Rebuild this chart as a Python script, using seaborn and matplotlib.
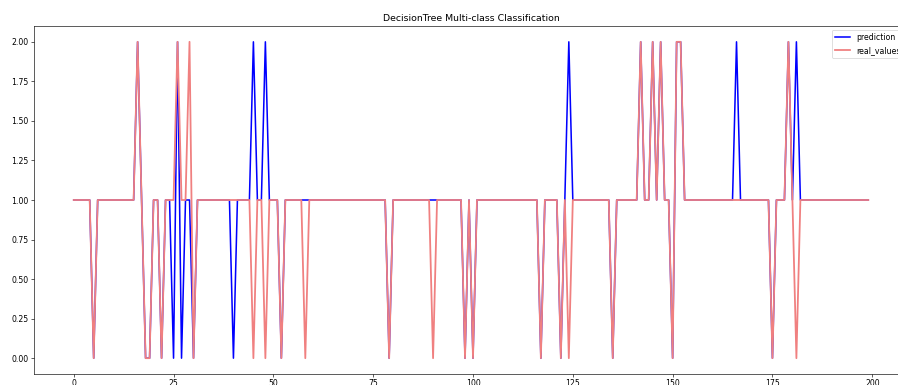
import matplotlib
matplotlib.use("Agg")
import matplotlib.pyplot as plt
import seaborn as sns
import pandas as pd

title = "DecisionTree Multi-class Classification"

prediction = [
    1, 1, 1, 1, 1, 0, 1, 1, 1, 1, 1, 1, 1, 1, 1, 1, 2, 1, 0, 0,
    1, 1, 0, 1, 1, 0, 2, 0, 1, 1, 0, 1, 1, 1, 1, 1, 1, 1, 1, 1,
    0, 1, 1, 1, 1, 2, 1, 1, 2, 1, 1, 1, 0, 1, 1, 1, 1, 1, 1, 1,
    1, 1, 1, 1, 1, 1, 1, 1, 1, 1, 1, 1, 1, 1, 1, 1, 1, 1, 1, 0,
    1, 1, 1, 1, 1, 1, 1, 1, 1, 1, 1, 1, 1, 1, 1, 1, 1, 1, 0, 1,
    0, 1, 1, 1, 1, 1, 1, 1, 1, 1, 1, 1, 1, 1, 1, 1, 1, 0, 1, 1,
    1, 1, 0, 1, 2, 1, 1, 1, 1, 1, 1, 1, 1, 1, 1, 0, 1, 1, 1, 1,
    1, 1, 2, 1, 1, 2, 1, 2, 1, 1, 0, 2, 2, 1, 1, 1, 1, 1, 1, 1,
    1, 1, 1, 1, 1, 1, 2, 1, 1, 1, 1, 1, 1, 1, 1, 0, 1, 1, 1, 2,
    1, 2, 1, 1, 1, 1, 1, 1, 1, 1, 1, 1, 1, 1, 1, 1, 1, 1, 1, 1,
]

real_values = [
    1, 1, 1, 1, 1, 0, 1, 1, 1, 1, 1, 1, 1, 1, 1, 1, 2, 1, 0, 0,
    1, 1, 0, 1, 1, 1, 2, 1, 1, 2, 0, 1, 1, 1, 1, 1, 1, 1, 1, 1,
    1, 1, 1, 1, 1, 0, 1, 1, 0, 1, 1, 1, 0, 1, 1, 1, 1, 1, 0, 1,
    1, 1, 1, 1, 1, 1, 1, 1, 1, 1, 1, 1, 1, 1, 1, 1, 1, 1, 1, 0,
    1, 1, 1, 1, 1, 1, 1, 1, 1, 1, 0, 1, 1, 1, 1, 1, 1, 1, 0, 1,
    0, 1, 1, 1, 1, 1, 1, 1, 1, 1, 1, 1, 1, 1, 1, 1, 1, 0, 1, 1,
    1, 1, 0, 1, 0, 1, 1, 1, 1, 1, 1, 1, 1, 1, 1, 0, 1, 1, 1, 1,
    1, 1, 2, 1, 1, 2, 1, 2, 1, 1, 0, 2, 2, 1, 1, 1, 1, 1, 1, 1,
    1, 1, 1, 1, 1, 1, 1, 1, 1, 1, 1, 1, 1, 1, 1, 0, 1, 1, 1, 2,
    1, 0, 1, 1, 1, 1, 1, 1, 1, 1, 1, 1, 1, 1, 1, 1, 1, 1, 1, 1,
]

sample_index = list(range(len(prediction)))

df = pd.DataFrame({"index": sample_index,
                   "prediction": prediction,
                   "real_values": real_values})

DPI = 56
fig = plt.figure(figsize=(899 / DPI, 385 / DPI), dpi=DPI)
ax = fig.add_axes([34 / 899, 11 / 385, (908 - 34) / 899, (374 - 26) / 385])

sns.lineplot(data=df, x="index", y="prediction", color="blue",
             linewidth=2.0, label="prediction", ax=ax)
sns.lineplot(data=df, x="index", y="real_values", color="lightcoral",
             linewidth=2.3, alpha=1.0, label="real_values", ax=ax)

ax.set_title(title)
ax.set_xlabel("")
ax.set_ylabel("")
ax.set_xticks([0, 25, 50, 75, 100, 125, 150, 175, 200])
ax.set_yticks([0, 0.25, 0.5, 0.75, 1.0, 1.25, 1.5, 1.75, 2.0])
ax.legend(loc="upper right")

fig.savefig("out.png", dpi=DPI)
